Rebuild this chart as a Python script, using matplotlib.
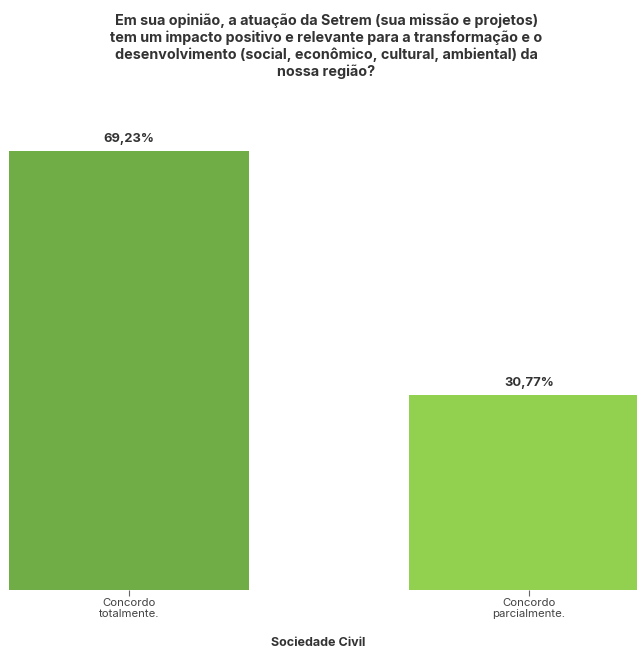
import matplotlib.pyplot as plt

# data
categories = ["Concordo\ntotalmente.", "Concordo\nparcialmente."]
values = [69.23, 30.77]
labels = ["69,23%", "30,77%"]
colors = ["#70AD47", "#92D050"]

plt.rcParams["font.family"] = ["Inter", "DejaVu Sans"]

fig = plt.figure(figsize=(6.37, 6.49), dpi=100)
W, H = 637, 649
ax = fig.add_axes([9 / W, (H - 590) / H, (W - 9) / W, 475.7 / H])

x = list(range(len(categories)))
ax.bar(x, values, width=0.6, color=colors)
for xi, v, lab in zip(x, values, labels):
    ax.text(xi, v + 0.9, lab, ha="center", va="bottom", fontsize=9.3,
            fontweight="bold", color="#333333")

ax.set_xlim(-0.3, 1.27)
ax.set_ylim(0, 75)
ax.set_xticks(x)
ax.set_xticklabels(categories, fontsize=8.2, color="#444444", linespacing=1.1)
ax.tick_params(axis="x", length=4, color="#666666", pad=2)
ax.set_yticks([])
for s in ax.spines.values():
    s.set_visible(False)

fig.text(0.512, 0.929,
         "Em sua opinião, a atuação da Setrem (sua missão e projetos)\n"
         "tem um impacto positivo e relevante para a transformação e o\n"
         "desenvolvimento (social, econômico, cultural, ambiental) da\n"
         "nossa região?",
         ha="center", va="center", fontsize=10.3, fontweight="bold",
         color="#333333", linespacing=1.2)

fig.text(318 / W, 1 - 643 / H, "Sociedade Civil", ha="center", va="center",
         fontsize=9, fontweight="bold", color="#333333")

fig.savefig("out.png", dpi=100)
